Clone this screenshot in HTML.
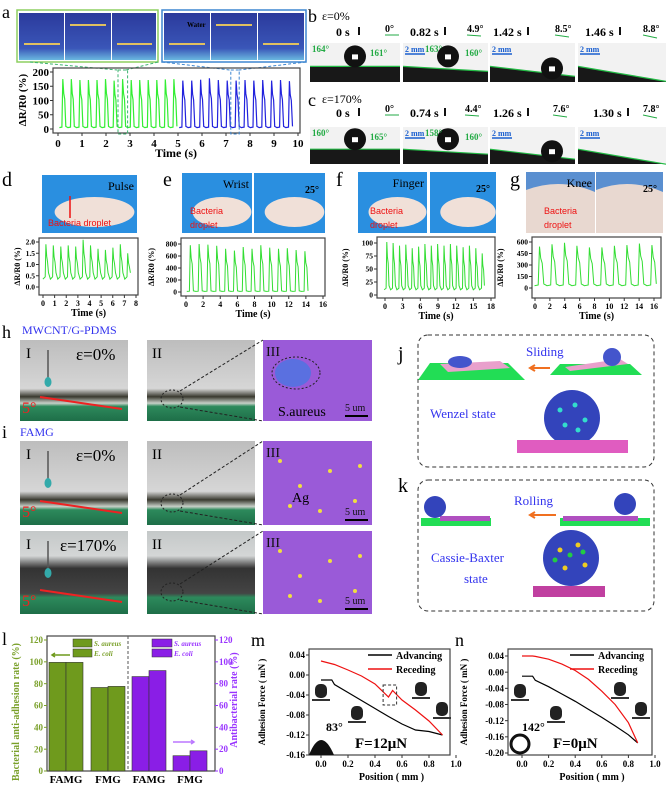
<!DOCTYPE html>
<html><head><meta charset="utf-8"><style>
body{margin:0;background:#fff}
svg{display:block;font-family:"Liberation Serif",serif}
.b{font-weight:bold}
</style></head><body>
<svg id="fig" width="666" height="800" viewBox="0 0 666 800">
<defs>
<linearGradient id="grA" x1="0" y1="0" x2="0" y2="1"><stop offset="0" stop-color="#bdbdbd"/><stop offset="0.6" stop-color="#d6d6d6"/><stop offset="0.7" stop-color="#3a3a30"/><stop offset="0.78" stop-color="#c8d0c8"/><stop offset="0.82" stop-color="#2d8a5c"/><stop offset="1" stop-color="#1e6e48"/></linearGradient>
<linearGradient id="grB" x1="0" y1="0" x2="0" y2="1"><stop offset="0" stop-color="#c4c8c8"/><stop offset="0.3" stop-color="#d4d6d6"/><stop offset="0.45" stop-color="#333"/><stop offset="0.75" stop-color="#444"/><stop offset="0.8" stop-color="#2d8a5c"/><stop offset="1" stop-color="#1e6e48"/></linearGradient>
<linearGradient id="sky" x1="0" y1="0" x2="0" y2="1"><stop offset="0" stop-color="#2b3a9c"/><stop offset="0.75" stop-color="#3a56b8"/><stop offset="1" stop-color="#6ab8e0"/></linearGradient>
</defs>

<!-- panel a -->
<text x="2" y="18" font-size="18">a</text>
<g>
<rect x="17" y="10" width="141" height="52" fill="#fff" stroke="#8dcf60" stroke-width="1.5"/>
<rect x="19" y="13" width="45" height="47" fill="url(#sky)"/><rect x="65" y="13" width="46" height="47" fill="url(#sky)"/><rect x="112" y="13" width="44" height="47" fill="url(#sky)"/>
<path d="M24 44 L60 44 M70 25 L106 25 M117 44 L152 44" stroke="#e0c060" stroke-width="2"/>
</g>
<g>
<rect x="162" y="10" width="144" height="52" fill="#fff" stroke="#3d86d0" stroke-width="1.5"/>
<rect x="164" y="13" width="46" height="47" fill="url(#sky)"/><rect x="211" y="13" width="46" height="47" fill="url(#sky)"/><rect x="258" y="13" width="46" height="47" fill="url(#sky)"/>
<path d="M169 44 L205 44 M216 25 L252 25 M263 44 L299 44" stroke="#e0c060" stroke-width="2"/>
<text x="187" y="27" font-size="7" class="b">Water</text>
</g>
<path d="M30 62 L117 70 M158 62 L126 70" stroke="#3cb371" stroke-dasharray="3,2" fill="none"/>
<path d="M162 62 L230 70 M306 62 L239 70" stroke="#3d86d0" stroke-dasharray="3,2" fill="none"/>
<g id="chartA"></g>

<!-- panels b / c -->
<text x="308" y="22" font-size="18">b</text>
<text x="322" y="20" font-size="12">ε=0%</text>
<text x="308" y="106" font-size="18">c</text>
<text x="322" y="103" font-size="12">ε=170%</text>
<g id="caG"></g>

<!-- panels d-g -->
<g id="dg"></g>

<!-- h / i -->
<text x="2" y="338" font-size="18">h</text>
<text x="22" y="334" font-size="12" fill="#3333ee">MWCNT/G-PDMS</text>
<text x="2" y="438" font-size="18">i</text>
<text x="20" y="436" font-size="12" fill="#3333ee">FAMG</text>
<g id="hi"></g>

<!-- j / k -->
<text x="398" y="360" font-size="20">j</text>
<rect x="418" y="335" width="236" height="132" rx="10" fill="none" stroke="#333" stroke-dasharray="4,3"/>
<text x="526" y="356" font-size="13" fill="#3333ee">Sliding</text>
<polygon points="430,363 508,363 525,380 418,380" fill="#22dd55"/><polygon points="440,364 500,361 510,368 448,372" fill="#e9a0cc"/><ellipse cx="460" cy="362" rx="12" ry="6" fill="#4455cc"/>
<polygon points="560,364 630,364 642,375 550,375" fill="#22dd55"/><polygon points="565,367 620,359 628,364 570,371" fill="#e9a0cc"/><circle cx="612" cy="357" r="9" fill="#4455cc"/>
<path d="M550 368 L530 368 M535 365 L530 368 L535 371" stroke="#f07020" stroke-width="2" fill="none"/>
<text x="430" y="418" font-size="13" fill="#3333ee">Wenzel state</text>
<circle cx="572" cy="418" r="28" fill="#3344bb"/><rect x="517" y="440" width="111" height="13" fill="#e05cc0"/>
<g fill="#33ddcc"><circle cx="560" cy="410" r="2.5"/><circle cx="575" cy="405" r="2.5"/><circle cx="585" cy="420" r="2.5"/><circle cx="565" cy="425" r="2.5"/><circle cx="578" cy="430" r="2.5"/></g>
<text x="398" y="492" font-size="20">k</text>
<rect x="418" y="480" width="236" height="131" rx="10" fill="none" stroke="#333" stroke-dasharray="4,3"/>
<text x="514" y="505" font-size="13" fill="#3333ee">Rolling</text>
<rect x="421" y="518" width="70" height="8" fill="#22dd55"/><rect x="440" y="516" width="50" height="5" fill="#b050c0"/><circle cx="435" cy="507" r="11" fill="#3344bb"/>
<rect x="560" y="518" width="90" height="8" fill="#22dd55"/><rect x="563" y="516" width="75" height="5" fill="#b050c0"/><circle cx="625" cy="504" r="11" fill="#3344bb"/>
<path d="M556 515 L530 515 M535 512 L530 515 L535 518" stroke="#f07020" stroke-width="2" fill="none"/>
<text x="431" y="562" font-size="13" fill="#3333ee">Cassie-Baxter</text>
<text x="464" y="583" font-size="13" fill="#3333ee">state</text>
<circle cx="571" cy="558" r="28" fill="#3344bb"/><rect x="533" y="586" width="72" height="11" fill="#c040a0"/>
<g fill="#eecc22"><circle cx="560" cy="550" r="2.5"/><circle cx="578" cy="545" r="2.5"/><circle cx="585" cy="565" r="2.5"/><circle cx="565" cy="568" r="2.5"/></g>
<g fill="#22cc44"><circle cx="570" cy="555" r="2.5"/><circle cx="555" cy="560" r="2.5"/><circle cx="583" cy="552" r="2.5"/></g>

<!-- l, m, n -->
<text x="2" y="645" font-size="18">l</text>
<g id="chartL"></g>
<text x="251" y="646" font-size="18">m</text>
<g id="chartM"></g>
<text x="455" y="646" font-size="18">n</text>
<g id="chartN"></g>
</svg>
<script>
const NS='http://www.w3.org/2000/svg';
function mk(p,t,a,txt){const e=document.createElementNS(NS,t);for(const k in a)e.setAttribute(k,a[k]);if(txt!=null)e.textContent=txt;p.appendChild(e);return e;}

// ---------- data ----------
const aGreenPeaks=[175,175,172,172,172,175,170,175,172,172,172,172,174,175];
const aBluePeaks=[170,170,173,178,172,170,170,172,170,172,170,172,168];
const aTicksX=[0,1,2,3,4,5,6,7,8,9,10];
const aTicksY=[0,50,100,150,200];
const dPeaks=[1.9,1.85,1.8,1.85,1.8,2.1,1.85,1.7,1.65,1.75,1.9,1.5];
const ePeaks=[780,800,790,770,720,690,750,720,780,740,720,730,700,680];
const fPeaks=[102,100,95,97,90,93,98,95,98,95,98,95,92,95,90,80];
const gPeaks=[540,570,590,550,530,530,550,560,580,560];
const lCats=['FAMG','FMG','FAMG','FMG'];
const lSaureus=[99.5,76.5,86.5,14];
const lEcoli=[99.5,77.5,92,18.5];
const mPos=[0,0.08,0.1,0.2,0.3,0.4,0.5,0.6,0.7,0.8,0.9];
const mAdv=[-0.01,-0.01,-0.019,-0.035,-0.051,-0.067,-0.083,-0.098,-0.11,-0.113,-0.12];
const mRecPos=[0,0.1,0.2,0.3,0.4,0.5,0.53,0.6,0.7,0.8,0.9];
const mRec=[0.028,0.021,0.01,-0.002,-0.018,-0.044,-0.031,-0.05,-0.07,-0.092,-0.12];
const nPos=[0,0.08,0.1,0.2,0.3,0.4,0.5,0.6,0.7,0.8,0.87];
const nAdv=[-0.01,-0.01,-0.02,-0.036,-0.054,-0.072,-0.092,-0.112,-0.133,-0.155,-0.175];
const nRec=[0.04,0.04,0.039,0.032,0.02,0.004,-0.018,-0.047,-0.08,-0.125,-0.175];

function scale(d0,d1,r0,r1){return v=>r0+(v-d0)/(d1-d0)*(r1-r0);}
function spikes(peaks,t0,dt,base){const pts=[];peaks.forEach((p,i)=>{const t=t0+i*dt;pts.push([t-dt*0.4,base],[t-dt*0.1,base*1.3],[t,p],[t+dt*0.1,p*0.72],[t+dt*0.22,p*0.6],[t+dt*0.35,base*1.8]);});return pts;}
function frame(g,x0,y0,x1,y1){const fr=mk(g,'rect',{x:x0,y:y0,width:x1-x0,height:y1-y0,fill:'none',stroke:'#444','stroke-width':1.2});}
function xticks(g,vals,xs,y1,fs,fmt,col){vals.forEach(v=>{mk(g,'line',{x1:xs(v),x2:xs(v),y1:y1,y2:y1+3,stroke:'#333'});const t=mk(g,'text',{x:xs(v),y:y1+fs+3,'font-size':fs,'text-anchor':'middle',class:'b',fill:col||'#000'},fmt?fmt(v):v);});}
function yticks(g,vals,ys,x0,fs,fmt,col){vals.forEach(v=>{mk(g,'line',{x1:x0-3,x2:x0,y1:ys(v),y2:ys(v),stroke:col||'#333'});const t=mk(g,'text',{x:x0-4,y:ys(v)+fs*0.35,'font-size':fs,'text-anchor':'end',class:'b',fill:col||'#000'},fmt?fmt(v):v);});}
function ytitle(g,x,cy,fs,txt,col){const t=mk(g,'text',{x:x,y:cy,'font-size':fs,'text-anchor':'middle',class:'b',fill:col||'#000',transform:`rotate(-90 ${x} ${cy})`},txt);}
function xtitle(g,x,y,fs,txt){const t=mk(g,'text',{x:x,y:y,'font-size':fs,'text-anchor':'middle',class:'b'},txt);}
function line(g,pts,xs,ys,col,w,name){const l=mk(g,'polyline',{points:pts.map(p=>xs(p[0]).toFixed(1)+','+ys(p[1]).toFixed(1)).join(' '),fill:'none',stroke:col,'stroke-width':w});}

// ---------- chart a ----------
{const g=document.getElementById('chartA');const xs=scale(0,10,58,298),ys=scale(0,200,129,72);
frame(g,53,68,300,133);xticks(g,aTicksX,xs,133,11);yticks(g,aTicksY,ys,53,11);
xtitle(g,176,157,12,'Time (s)');ytitle(g,26,100,11,'ΔR/R0 (%)');
line(g,spikes(aGreenPeaks,0.2,0.356,5),xs,ys,'#33ee33',1.2,'series-green');
line(g,spikes(aBluePeaks,5.2,0.37,5),xs,ys,'#2222dd',1.2,'series-blue');
mk(g,'rect',{x:xs(2.5),y:70,width:xs(2.9)-xs(2.5),height:64,fill:'none',stroke:'#3cb371','stroke-dasharray':'3,2'});
mk(g,'rect',{x:xs(7.2),y:70,width:xs(7.55)-xs(7.2),height:64,fill:'none',stroke:'#3d86d0','stroke-dasharray':'3,2'});}

// ---------- contact angle ----------
{const g=document.getElementById('caG');
const rows=[{y:43,h:39,ty:36,ay:32,t:['0 s','0.82 s','1.42 s','1.46 s'],tx:[336,410,493,585],ax:[385,467,555,643],a:['0°','4.9°','8.5°','8.8°'],ang:[['164°','161°'],['163°','160°']]},
{y:127,h:37,ty:117,ay:112,t:['0 s','0.74 s','1.26 s','1.30 s'],tx:[336,410,493,593],ax:[385,465,553,643],a:['0°','4.4°','7.6°','7.8°'],ang:[['160°','165°'],['158°','160°']]}];
const xs=[310,403,490,578],ws=[90,85,85,88];
rows.forEach(r=>{xs.forEach((x,i)=>{
 const w=ws[i];
 mk(g,'text',{x:r.tx[i],y:r.ty,'font-size':12,class:'b'},r.t[i]);
 mk(g,'rect',{x:r.tx[i]+(i==0?22:34),y:r.ty-9,width:2,height:8,fill:'#111'});
 mk(g,'text',{x:r.ax[i],y:r.ay,'font-size':10,class:'b'},r.a[i]);
 mk(g,'line',{x1:r.ax[i],x2:r.ax[i]+14,y1:r.ay+3,y2:r.ay+3+i,stroke:'#22aa44'});
 mk(g,'rect',{x:x,y:r.y,width:w,height:r.h,fill:'#f2f2f2'});
 const yb=r.y+r.h*0.6;
 mk(g,'polygon',{points:`${x},${yb} ${x+w},${yb+i*5} ${x+w},${r.y+r.h} ${x},${r.y+r.h}`,fill:'#181818'});
 mk(g,'line',{x1:x,y1:yb,x2:x+w,y2:yb+i*5,stroke:'#22bb44','stroke-width':1.2});
 if(i<3){const cx=x+(i==2?62:45),cy=i==2?yb+2:yb-10;mk(g,'circle',{cx:cx,cy:cy,r:11,fill:'#111'});mk(g,'rect',{x:cx-3,y:cy-2,width:6,height:5,fill:'#fff'});}
 if(i>0){mk(g,'text',{x:x+2,y:r.y+9,'font-size':8,fill:'#1a5fd0',class:'b'},'2 mm');
 mk(g,'line',{x1:x+2,x2:x+22,y1:r.y+11,y2:r.y+11,stroke:'#1a5fd0','stroke-width':1.5});}
 if(i<2){mk(g,'text',{x:x+(i==0?2:22),y:r.y+9,'font-size':9,fill:'#22aa44',class:'b'},r.ang[i][0]);mk(g,'text',{x:x+(i==0?60:62),y:r.y+13,'font-size':9,fill:'#22aa44',class:'b'},r.ang[i][1]);}
});});}

// ---------- d-g ----------
{const g=document.getElementById('dg');
const P=[{l:'d',lx:2,ly:186,px:[[42,137]],py:175,title:'Pulse',c:[39,138,238,295],yp:[287,242],peaks:dPeaks,t0:0.25,dt:0.64,yr:[0,2.0],yt:[0,0.5,1.0,1.5,2.0],xr:[0,8],xp:[43,136],xt:[0,1,2,3,4,5,6,7,8],base:0.35,fix:1,bg:'#2a8fe0'},
{l:'e',lx:163,ly:186,px:[[182,252],[254,325]],py:173,title:'Wrist',c:[181,325,238,296],yp:[292,244],peaks:ePeaks,t0:0.5,dt:1.03,yr:[0,800],yt:[0,200,400,600,800],xr:[0,16],xp:[186,323],xt:[0,2,4,6,8,10,12,14,16],base:10,fix:0,bg:'#2a8fe0'},
{l:'f',lx:336,ly:186,px:[[358,427],[430,496]],py:172,title:'Finger',c:[377,495,237,298],yp:[295,243],peaks:fPeaks,t0:0.3,dt:1.08,yr:[0,100],yt:[0,25,50,75,100],xr:[0,18],xp:[385,491],xt:[0,3,6,9,12,15,18],base:10,fix:0,bg:'#2a8fe0'},
{l:'g',lx:510,ly:186,px:[[526,595],[596,663]],py:172,title:'Knee',c:[532,661,237,298],yp:[288,242],peaks:gPeaks,t0:0.6,dt:1.68,yr:[0,600],yt:[0,150,300,450,600],xr:[0,16],xp:[535,654],xt:[0,2,4,6,8,10,12,14,16],base:30,fix:0,bg:'#5a8fd0'}];
P.forEach(p=>{
 mk(g,'text',{x:p.lx,y:p.ly,'font-size':20},p.l);
 p.px.forEach((r,i)=>{mk(g,'rect',{x:r[0],y:p.py,width:r[1]-r[0],height:233-p.py,fill:p.bg});
   if(p.l=='g')mk(g,'path',{d:`M${r[0]} ${p.py+18} Q${(r[0]+r[1])/2} ${p.py+5} ${r[1]} ${p.py+20} L${r[1]} 233 L${r[0]} 233Z`,fill:'#e8d8d0'});
   else mk(g,'ellipse',{cx:(r[0]+r[1])/2+5,cy:212,rx:(r[1]-r[0])*0.42,ry:15,fill:'#f0e0d8'});});
 mk(g,'text',{x:p.px[0][1]-3,y:p.py+15,'font-size':12,'text-anchor':'end'},p.title);
 if(p.l!='d')mk(g,'text',{x:p.px[1][1]-20,y:p.py+20,'font-size':10,class:'b'},'25°');
 if(p.l=='d'){mk(g,'text',{x:48,y:226,'font-size':9,fill:'#ee1111','font-family':'Liberation Sans'},'Bacteria droplet');mk(g,'line',{x1:70,x2:70,y1:218,y2:196,stroke:'#ee1111','stroke-width':1.5});}
 else{mk(g,'text',{x:p.px[0][0]+(p.l=='e'?8:p.l=='f'?12:18),y:214,'font-size':9,fill:'#ee1111','font-family':'Liberation Sans'},'Bacteria');
  mk(g,'text',{x:p.px[0][0]+(p.l=='e'?8:p.l=='f'?12:18),y:228,'font-size':9,fill:'#ee1111','font-family':'Liberation Sans'},'droplet');}
 const xs=scale(p.xr[0],p.xr[1],p.xp[0],p.xp[1]),ys=scale(p.yr[0],p.yr[1],p.yp[0],p.yp[1]);
 const sub=mk(g,'g',{});
 frame(sub,p.c[0],p.c[2],p.c[1],p.c[3]);
 xticks(sub,p.xt,xs,p.c[3],8);
 yticks(sub,p.yt,ys,p.c[0],7.5,p.fix?(v=>v.toFixed(1)):null);
 xtitle(sub,(p.c[0]+p.c[1])/2,p.c[3]+21,10,'Time (s)');
 ytitle(sub,p.c[0]-(p.l=='d'?19:p.l=='e'?27:29),(p.c[2]+p.c[3])/2,8,'ΔR/R0 (%)');
 line(sub,spikes(p.peaks,p.t0,p.dt,p.base),xs,ys,'#33dd33',1,'series-'+p.title.toLowerCase());
});}

// ---------- h/i photos ----------
{const g=document.getElementById('hi');
const rows=[{y:340,h:81,e:'ε=0%',fill:'url(#grA)'},{y:441,h:84,e:'ε=0%',fill:'url(#grA)'},{y:531,h:83,e:'ε=170%',fill:'url(#grB)'}];
rows.forEach((r,k)=>{
 mk(g,'rect',{x:20,y:r.y,width:108,height:r.h,fill:r.fill});
 mk(g,'rect',{x:147,y:r.y,width:108,height:r.h,fill:r.fill});
 mk(g,'rect',{x:263,y:r.y,width:109,height:r.h,fill:'#9a5ad8'});
 mk(g,'text',{x:26,y:r.y+18,'font-size':15},'I');
 mk(g,'text',{x:152,y:r.y+18,'font-size':15},'II');
 mk(g,'text',{x:266,y:r.y+16,'font-size':14,fill:'#111'},'III');
 mk(g,'text',{x:k==2?60:76,y:r.y+20,'font-size':17},r.e);
 mk(g,'line',{x1:48,x2:48,y1:r.y+10,y2:r.y+38,stroke:'#555','stroke-width':1.5});
 mk(g,'ellipse',{cx:48,cy:r.y+42,rx:3.5,ry:5,fill:'#3aa'});
 mk(g,'line',{x1:40,x2:122,y1:r.y+r.h-24,y2:r.y+r.h-12,stroke:'#ee2222','stroke-width':2});
 mk(g,'text',{x:22,y:r.y+r.h-8,'font-size':16,fill:'#ee2222'},'5°');
 mk(g,'ellipse',{cx:172,cy:r.y+r.h-22,rx:11,ry:9,fill:'none',stroke:'#222','stroke-dasharray':'2,2'});
 mk(g,'path',{d:`M180 ${r.y+r.h-30} L263 ${r.y} M180 ${r.y+r.h-14} L263 ${r.y+r.h}`,stroke:'#222','stroke-dasharray':'3,2',fill:'none'});
 mk(g,'text',{x:345,y:r.y+r.h-10,'font-size':10,fill:'#111'},'5 um');
 mk(g,'line',{x1:345,x2:368,y1:r.y+r.h-5,y2:r.y+r.h-5,stroke:'#000','stroke-width':2});
 if(k>0)[[280,20],[300,45],[330,30],[355,60],[290,65],[320,70],[360,25]].forEach(d=>mk(g,'circle',{cx:d[0],cy:r.y+d[1],r:2,fill:'#f0e040'}));
});
mk(g,'ellipse',{cx:293,cy:373,rx:18,ry:14,fill:'#5a70e0'});
mk(g,'ellipse',{cx:296,cy:373,rx:24,ry:16,fill:'none',stroke:'#222','stroke-dasharray':'2,2'});
mk(g,'text',{x:278,y:416,'font-size':14},'S.aureus');
mk(g,'text',{x:292,y:502,'font-size':14},'Ag');}

// ---------- chart l ----------
{const g=document.getElementById('chartL');const x0=47,x1=215,y0=636,y1=771;
const ys=scale(0,120,y1,y0+4);const gc='#7aa02a',pc='#9933ff';
frame(g,x0,y0,x1,y1);
yticks(g,[0,20,40,60,80,100,120],ys,x0,9,null,gc);
[0,20,40,60,80,100,120].forEach(v=>{mk(g,'line',{x1:x1,x2:x1+3,y1:ys(v),y2:ys(v),stroke:pc});const t=mk(g,'text',{x:x1+4,y:ys(v)+3,'font-size':9,fill:pc,class:'b'},v);});
ytitle(g,19,712,10,'Bacterial anti-adhesion rate (%)',gc);
const yt2=mk(g,'text',{x:237,y:700,'font-size':10,class:'b',fill:pc,'text-anchor':'middle',transform:'rotate(-90 237 700)'},'Antibacterial  rate (%)');

const bw=17,cx=[66,108,149,190];
lCats.forEach((c,i)=>{const col=i<2?'#6f9a1d':'#8a1ee6';
 [lSaureus[i],lEcoli[i]].forEach((v,j)=>{const b=mk(g,'rect',{x:cx[i]-bw+j*bw,y:ys(v),width:bw,height:y1-ys(v),fill:col,stroke:'#333','stroke-width':0.6});});
 const t=mk(g,'text',{x:cx[i],y:783,'font-size':11,'text-anchor':'middle',class:'b'},c);});
mk(g,'line',{x1:128,x2:128,y1:y0,y2:y1,stroke:'#555','stroke-dasharray':'3,2'});
[['S. aureus',0],['E. coli',10]].forEach(l=>{mk(g,'rect',{x:73,y:639+l[1],width:19,height:8,fill:'#6f9a1d',stroke:'#333','stroke-width':0.5});mk(g,'text',{x:94,y:646+l[1],'font-size':7,fill:gc,'font-style':'italic',class:'b'},l[0]);
 mk(g,'rect',{x:152,y:639+l[1],width:20,height:8,fill:'#8a1ee6',stroke:'#333','stroke-width':0.5});mk(g,'text',{x:174,y:646+l[1],'font-size':7,fill:pc,'font-style':'italic',class:'b'},l[0]);});
mk(g,'path',{d:'M70 655 L52 655 M55 653 L52 655 L55 657',stroke:'#6f9a1d','stroke-width':1.5,fill:'none'});
mk(g,'path',{d:'M173 742 L194 742 M191 740 L194 742 L191 744',stroke:'#bb77ff','stroke-width':1.5,fill:'none'});}

// ---------- m, n ----------
function forceChart(id,x0,x1,xs,ys,ytv,posA,adv,posR,rec,ang,F,tx){
 const g=document.getElementById(id);const y0=649,y1=755;
 const sub=mk(g,'g',{});
 frame(sub,x0,y0,x1,y1);
 xticks(sub,[0,0.2,0.4,0.6,0.8,1.0],xs,y1,9,v=>v.toFixed(1));
 yticks(sub,ytv,ys,x0,9,v=>v.toFixed(2));
 xtitle(sub,(x0+x1)/2+12,780,10,'Position ( mm )');
 ytitle(sub,tx,702,9,'Adhesion Force ( mN )');
 line(sub,posA.map((p,i)=>[p,adv[i]]),xs,ys,'#000',1.2,'advancing-line');
 line(sub,posR.map((p,i)=>[p,rec[i]]),xs,ys,'#ee1111',1.2,'receding-line');
 mk(sub,'line',{x1:x1-82,x2:x1-58,y1:y0+6,y2:y0+6,stroke:'#000','stroke-width':1.5});
 mk(sub,'text',{x:x1-54,y:y0+10,'font-size':10,class:'b'},'Advancing');
 mk(sub,'line',{x1:x1-82,x2:x1-58,y1:y0+20,y2:y0+20,stroke:'#ee1111','stroke-width':1.5});
 mk(sub,'text',{x:x1-54,y:y0+24,'font-size':10,class:'b'},'Receding');
 mk(sub,'text',{x:x0+(id=='chartM'?46:45),y:y1-7,'font-size':15,class:'b'},F);
 mk(sub,'text',{x:x0+(id=='chartM'?17:14),y:y1-24,'font-size':12,class:'b'},ang);
 if(id=='chartM')mk(sub,'path',{d:`M${x0} ${y1} Q${x0+12} ${y1-30} ${x0+25} ${y1}Z`,fill:'#111'});
 else mk(sub,'circle',{cx:x0+12,cy:y1-11,r:9,fill:'none',stroke:'#111','stroke-width':3});
 [[x0+12,694],[x0+48,716],[x0+112,692],[x0+133,712]].forEach(d=>{mk(sub,'rect',{x:d[0]-6,y:d[1]-10,width:12,height:14,rx:5,fill:'#222'});mk(sub,'rect',{x:d[0]-9,y:d[1]+5,width:18,height:2,fill:'#333'});});
 if(id=='chartM')mk(sub,'rect',{x:xs(0.46),y:ys(-0.02),width:xs(0.56)-xs(0.46),height:ys(-0.06)-ys(-0.02),fill:'none',stroke:'#333','stroke-dasharray':'3,2'});
}
forceChart('chartM',309,450,scale(0,1,321,456),scale(-0.16,0.04,755,655),[0.04,0.00,-0.04,-0.08,-0.12,-0.16],mPos,mAdv,mRecPos,mRec,'83°','F=12μN',265);
forceChart('chartN',508,652,scale(0,1,522,655),scale(-0.2,0.04,753,656),[0.04,0.00,-0.04,-0.08,-0.12,-0.16,-0.20],nPos,nAdv,nPos,nRec,'142°','F=0μN',467);
</script>
</body></html>
